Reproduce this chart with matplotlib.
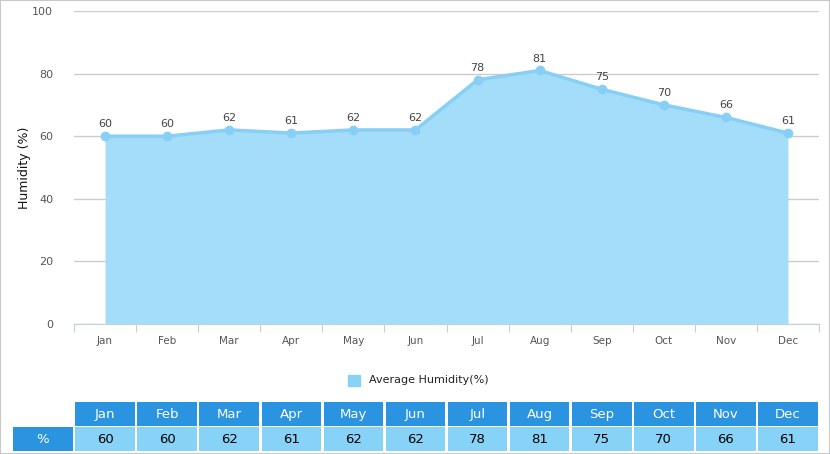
import matplotlib.pyplot as plt
import numpy as np
from matplotlib.patches import Rectangle

months = ['Jan', 'Feb', 'Mar', 'Apr', 'May', 'Jun', 'Jul', 'Aug', 'Sep', 'Oct', 'Nov', 'Dec']
humidity = [60, 60, 62, 61, 62, 62, 78, 81, 75, 70, 66, 61]
yticks = [0, 20, 40, 60, 80, 100]

W, H = 830, 454
fig = plt.figure(figsize=(W / 100, H / 100), dpi=100)
plt.rcParams['font.family'] = ['DejaVu Sans']

def px(x0, y0, x1, y1):
    return [x0 / W, 1 - y1 / H, (x1 - x0) / W, (y1 - y0) / H]

# main chart
ax = fig.add_axes(px(74, 11, 819, 324))
x = np.arange(len(months))
ax.fill_between(x, 0, humidity, color='#A4DDF9', lw=0, zorder=2)
ax.plot(x, humidity, color='#87CFF5', lw=2.5, marker='o', ms=6, zorder=3)
for xi, v in zip(x, humidity):
    ax.annotate(str(v), (xi, v), xytext=(0, 5), textcoords='offset points',
                ha='center', va='bottom', fontsize=8, color='#444444')
ax.set_xlim(-0.5, 11.5)
ax.set_ylim(0, 100)
ax.set_yticks(yticks)
ax.grid(axis='y', color='#CCCCCC', lw=1, zorder=0)
ax.set_axisbelow(True)
for s in ['top', 'right', 'left']:
    ax.spines[s].set_visible(False)
ax.spines['bottom'].set_color('#C0D0E0')
ax.tick_params(axis='y', length=0, labelsize=8, labelcolor='#555555', pad=15)
ax.set_xticks(np.arange(-0.5, 12, 1))
ax.set_xticklabels([])
ax.set_xticks(x, minor=True)
ax.set_xticklabels(months, minor=True)
ax.tick_params(axis='x', which='major', length=6, color='#C0D0E0')
ax.tick_params(axis='x', which='minor', length=0, labelsize=7.5, labelcolor='#555555', pad=9)
ax.set_ylabel('Humidity (%)', fontsize=9, color='#111111', labelpad=1)

# legend
fig.patches.append(Rectangle((348 / W, 1 - 386 / H), 12 / W, 11 / H,
                             transform=fig.transFigure, color='#87D3F8'))
fig.text(369 / W, 1 - 380 / H, 'Average Humidity(%)', fontsize=8, va='center', color='#222222')

# table
tb = fig.add_axes(px(12, 402, 819, 451))
tb.set_xlim(-1.5, 11.5)
tb.set_ylim(0, 2)
tb.axis('off')
gap = 0.02
for i, m in enumerate(months):
    tb.add_patch(Rectangle((i - 0.5 + gap, 1.04), 1 - 2 * gap, 0.94, color='#2A94E0', lw=0))
    tb.text(i, 1.5, m, ha='center', va='center', color='white', fontsize=9.5)
    tb.add_patch(Rectangle((i - 0.5 + gap, 0.02), 1 - 2 * gap, 0.94, color='#87D3F8', lw=0))
    tb.text(i, 0.48, str(humidity[i]), ha='center', va='center', color='black', fontsize=9.5)
tb.add_patch(Rectangle((-1.5 + gap, 0.02), 1 - 2 * gap, 0.94, color='#2A94E0', lw=0))
tb.text(-1, 0.48, '%', ha='center', va='center', color='white', fontsize=9.5)

# outer border
fig.patches.append(Rectangle((0, 0), 1, 1, transform=fig.transFigure,
                             fill=False, ec='#C8C8C8', lw=1.5))

fig.savefig('out.png', dpi=100)
